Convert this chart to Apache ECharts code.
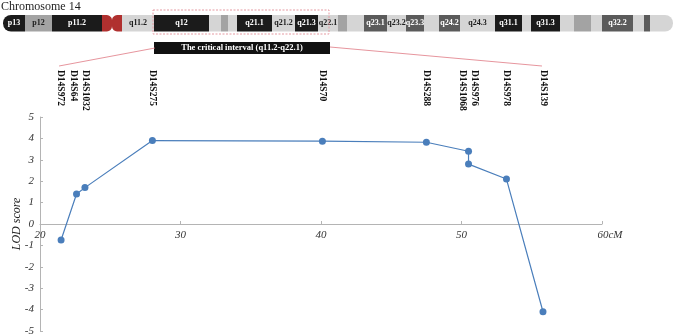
<!DOCTYPE html>
<html><head><meta charset="utf-8">
<script src="https://cdn.jsdelivr.net/npm/echarts@6/dist/echarts.min.js"></script>
<style>html,body{margin:0;padding:0;background:#fff}#c{width:675px;height:335px}</style>
</head><body><div id="c"></div>
<script>
// ---- data ----
var markers = ['D14S972','D14S64','D14S1032','D14S275','D14S70','D14S288','D14S1068','D14S976','D14S978','D14S139'];
var positionsCM = [21.5, 22.6, 23.2, 28.0, 40.1, 47.5, 50.5, 50.5, 53.2, 55.8];
var lodScores = [-0.75, 1.4, 1.7, 3.9, 3.87, 3.82, 3.4, 2.8, 2.1, -4.1];
var xTicks = [20, 30, 40, 50, 60];
var yTicks = [-5,-4,-3,-2,-1,0,1,2,3,4,5];
var bandNames = ['p13','p12','p11.2','q11.2','q12','','','','q21.1','q21.2','q21.3','q22.1','','','q23.1','q23.2','q23.3','','q24.2','q24.3','q31.1','','q31.3','','','','q32.2','','',''];
var bandStains = ['k','g','k','l','k','l','g','l','k','l','k','l','g','l','d','l','d','l','d','l','k','l','k','l','g','l','d','l','d','l'];
var titleText = 'Chromosome 14';
var intervalText = 'The critical interval (q11.2-q22.1)';

// ---- layout (pixels) ----
var bandEdges = [3,25,52,102, 122,154,209,221,228,237,272,295,318,338,347,364,387,406,424,439,460,495,522,531,560,574,591,602,633,644,650,673];
var labelShift = [-1,-3,0,0,0,0,-6,6,0,0];
var stainColor = {k:'#1b1b1b', g:'#a3a3a3', l:'#d5d5d5', d:'#5b5b5b'};
var stainText = {k:'#ffffff', g:'#1b1b1b', l:'#1b1b1b', d:'#ffffff'};
var serif = '"Liberation Serif","Times New Roman",serif';
var gridTop = 117, gridBottom = 4, H = 335;
var gridH = H - gridTop - gridBottom;

var chart = echarts.init(document.getElementById('c'), null, {renderer:'canvas'});
var seriesData = positionsCM.map(function(x,i){return [x, lodScores[i]];});
var labStyle = {fontFamily:serif, fontStyle:'italic', fontSize:11, color:'#333'};

chart.setOption({
  animation:false,
  grid:{left:40, right:73, top:gridTop, bottom:gridBottom, outerBoundsMode:'none', containLabel:false},
  xAxis:{type:'value', min:xTicks[0], max:xTicks[xTicks.length-1], interval:10,
    offset:-gridH/2,
    axisLine:{onZero:false, lineStyle:{color:'#b4b4b4', width:1}},
    axisTick:{inside:true, length:3, lineStyle:{color:'#b4b4b4'}},
    splitLine:{show:false},
    axisLabel:{margin:6, fontFamily:serif, fontStyle:'italic', fontSize:11, color:'#333',
      formatter:function(v){ return v===60 ? '{a|60cM}' : '{b|'+v+'}'; },
      rich:{a:Object.assign({padding:[0,0,0,16]}, labStyle), b:labStyle}}
  },
  yAxis:{type:'value', min:yTicks[0], max:yTicks[yTicks.length-1], interval:1,
    name:'LOD score', nameLocation:'middle', nameGap:17, nameRotate:90, nameMoveOverlap:false,
    nameTextStyle:{fontFamily:serif, fontStyle:'italic', fontSize:12, color:'#222'},
    axisLine:{show:true, lineStyle:{color:'#b4b4b4', width:1}},
    axisTick:{show:true, inside:true, length:3, lineStyle:{color:'#b4b4b4'}},
    splitLine:{show:false},
    axisLabel:{margin:6, fontFamily:serif, fontStyle:'italic', fontSize:11, color:'#333'}
  },
  series:[{type:'line', data:seriesData, symbol:'circle', symbolSize:7,
    lineStyle:{color:'#4a7ebb', width:1.2}, itemStyle:{color:'#4a7ebb'}}]
});

// ---- ideogram and annotations ----
var g = [];
g.push({type:'text', x:1, y:1, style:{text:titleText, font:'12px '+serif, fill:'#1e1e1e', verticalAlign:'top'}});
var y0 = 15, y1 = 31.5, bh = y1-y0;
for (var i=0;i<bandNames.length;i++){
  var xa, xb;
  if (i<3){ xa = bandEdges[i]; xb = bandEdges[i+1]; }
  else { xa = bandEdges[i+1]; xb = bandEdges[i+2]; }
  var r = 0;
  if (i===0) r=[8,0,0,8];
  if (i===bandNames.length-1) r=[0,8,8,0];
  g.push({type:'rect', shape:{x:xa, y:y0, width:xb-xa, height:bh, r:r}, style:{fill:stainColor[bandStains[i]]}, z:1});
  if (bandNames[i]) g.push({type:'text', x:(xa+xb)/2, y:(y0+y1)/2, z:2,
    style:{text:bandNames[i], font:'bold 8px '+serif, fill:stainText[bandStains[i]], align:'center', verticalAlign:'middle'}});
}
// centromere: bow-tie with curved notches at top and bottom
function quad(p0, p1, p2, n){
  var out = [];
  for (var j=1;j<=n;j++){ var t=j/n, u=1-t;
    out.push([u*u*p0[0]+2*u*t*p1[0]+t*t*p2[0], u*u*p0[1]+2*u*t*p1[1]+t*t*p2[1]]); }
  return out;
}
var c0 = bandEdges[3], c1 = bandEdges[4], cm = (c0+c1)/2, dn = 5.5, hw = 7;
var cp = [[c0,y0],[cm-hw,y0]];
cp = cp.concat(quad([cm-hw,y0],[cm,y0],[cm,y0+dn],8));
cp = cp.concat(quad([cm,y0+dn],[cm,y0],[cm+hw,y0],8));
cp.push([c1,y0],[c1,y1],[cm+hw,y1]);
cp = cp.concat(quad([cm+hw,y1],[cm,y1],[cm,y1-dn],8));
cp = cp.concat(quad([cm,y1-dn],[cm,y1],[cm-hw,y1],8));
cp.push([c0,y1]);
g.push({type:'polygon', z:1, shape:{points:cp}, style:{fill:'#b0302f'}});
// highlight rectangle
g.push({type:'rect', z:3, shape:{x:153, y:10, width:176, height:24}, style:{fill:'none', stroke:'#e59aa2', lineWidth:1, lineDash:[2,1.5]}});
// interval box
g.push({type:'rect', z:3, shape:{x:154, y:42, width:176, height:12}, style:{fill:'#111'}});
g.push({type:'text', z:4, x:242, y:48, style:{text:intervalText, font:'bold 8.5px '+serif, fill:'#fff', align:'center', verticalAlign:'middle'}});

var first = chart.convertToPixel({gridIndex:0}, [positionsCM[0], 0])[0];
var last = chart.convertToPixel({gridIndex:0}, [positionsCM[positionsCM.length-1], 0])[0];
g.push({type:'line', z:3, shape:{x1:155, y1:48, x2:first-2, y2:66}, style:{stroke:'#e07a84', lineWidth:0.8}});
g.push({type:'line', z:3, shape:{x1:330, y1:47, x2:last-1, y2:66}, style:{stroke:'#e07a84', lineWidth:0.8}});

for (var k=0;k<markers.length;k++){
  var px = chart.convertToPixel({gridIndex:0}, [positionsCM[k], 0])[0] + labelShift[k];
  g.push({type:'text', z:4, x:px, y:70, rotation:-Math.PI/2,
    style:{text:markers[k], font:'bold 9.5px '+serif, fill:'#111', align:'left', verticalAlign:'middle'}});
}
chart.setOption({graphic:g});
</script></body></html>
